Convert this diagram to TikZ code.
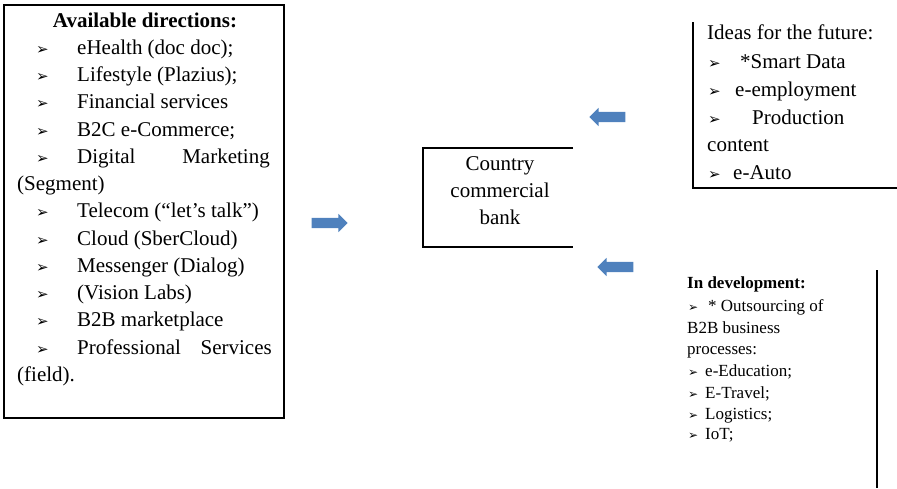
\documentclass[tikz,border=0pt]{standalone}
\usepackage{fontspec}
\setmainfont{Liberation Serif}
\newfontfamily\dingfont{DejaVu Sans}
\usetikzlibrary{shapes.arrows}

\definecolor{arrowblue}{RGB}{79,129,189}
\newcommand{\arr}{{\dingfont\fontsize{15}{15}\selectfont\char"27A2}}
\newcommand{\arrs}{{\dingfont\fontsize{12}{12}\selectfont\char"27A2}}

\tikzset{
    line/.style={anchor=base west, inner sep=0pt, font=\fontsize{21}{27}\selectfont},
    smallline/.style={anchor=base west, inner sep=0pt, font=\fontsize{17}{21}\selectfont},
    border/.style={line width=1.5pt},
    bluearrow/.style={single arrow, fill=arrowblue, draw=none, inner xsep=0pt, inner ysep=5pt,
        minimum height=36pt, single arrow head extend=4pt}
}

\begin{document}
\begin{tikzpicture}[x=1pt, y=-1pt]
    \useasboundingbox (0, 0) rectangle (897, 488);
    % left box
    \draw[border] (4, 5) rectangle (284, 418);
    \node[line, anchor=base, font=\fontsize{21}{27}\selectfont\bfseries] (avail) at (145, 27) {Available directions:};
    \node[line] (ehealth) at (36, 54) {\makebox[41pt][l]{\arr}eHealth (doc doc);};
    \node[line] (lifestyle) at (36, 81) {\makebox[41pt][l]{\arr}Lifestyle (Plazius);};
    \node[line] (finance) at (36, 108) {\makebox[41pt][l]{\arr}Financial services};
    \node[line] (btoc) at (36, 136) {\makebox[41pt][l]{\arr}B2C e-Commerce;};
    \node[line] (digital) at (36, 163) {\makebox[41pt][l]{\arr}Digital};
    \node[line, anchor=base east] (marketing) at (270, 163) {Marketing};
    \node[line] (segment) at (17, 190) {(Segment)};
    \node[line] (telecom) at (36, 217) {\makebox[41pt][l]{\arr}Telecom (“let’s talk”)};
    \node[line] (cloud) at (36, 245) {\makebox[41pt][l]{\arr}Cloud (SberCloud)};
    \node[line] (messenger) at (36, 272) {\makebox[41pt][l]{\arr}Messenger (Dialog)};
    \node[line] (vision) at (36, 299) {\makebox[41pt][l]{\arr}(Vision Labs)};
    \node[line] (btob) at (36, 326) {\makebox[41pt][l]{\arr}B2B marketplace};
    \node[line] (profi) at (36, 354) {\makebox[41pt][l]{\arr}Professional};
    \node[line, anchor=base east] (services) at (272, 354) {Services};
    \node[line] (field) at (17, 381) {(field).};
    % bank
    \node[minimum width=150pt, minimum height=99pt] (bank) at (498, 197.5) {};
    \draw[border] (bank.north east) -- (bank.north west) -- (bank.south west) -- (bank.south east);
    \node[align=center, inner sep=0pt, font=\fontsize{21}{27}\selectfont] (banktext) at (500, 191) {Country\\commercial\\bank};
    % arrows
    \node[bluearrow] (toright) at (327, 223) {};
    \node[bluearrow, shape border rotate=180] (fromideas) at (610, 117) {};
    \node[bluearrow, shape border rotate=180] (fromdev) at (618, 267) {};
    % ideas for the future
    \draw[border] (693, 22) -- (693, 188) -- (897, 188);
    \node[line] (ideas) at (707, 39) {Ideas for the future:};
    \node[line] (smartdata) at (708, 68) {\makebox[32pt][l]{\arr}*Smart Data};
    \node[line] (employ) at (708, 96) {\makebox[27pt][l]{\arr}e-employment};
    \node[line] (production) at (708, 124) {\makebox[44pt][l]{\arr}Production};
    \node[line] (content) at (707, 151) {content};
    \node[line] (auto) at (708, 179) {\makebox[25pt][l]{\arr}e-Auto};
    % in development
    \draw[border] (877, 270) -- (877, 488);
    \node[smallline, font=\fontsize{17}{21}\selectfont\bfseries] (indev) at (687, 288) {In development:};
    \node[smallline] (outsource) at (688, 311) {\makebox[20pt][l]{\arrs}* Outsourcing of};
    \node[smallline] (business) at (687, 333) {B2B business};
    \node[smallline] (processes) at (687, 354) {processes:};
    \node[smallline] (educ) at (688, 376) {\makebox[17pt][l]{\arrs}e-Education;};
    \node[smallline] (travel) at (688, 398) {\makebox[17pt][l]{\arrs}E-Travel;};
    \node[smallline] (logist) at (688, 419) {\makebox[17pt][l]{\arrs}Logistics;};
    \node[smallline] (iot) at (688, 439) {\makebox[17pt][l]{\arrs}IoT;};
\end{tikzpicture}
\end{document}
